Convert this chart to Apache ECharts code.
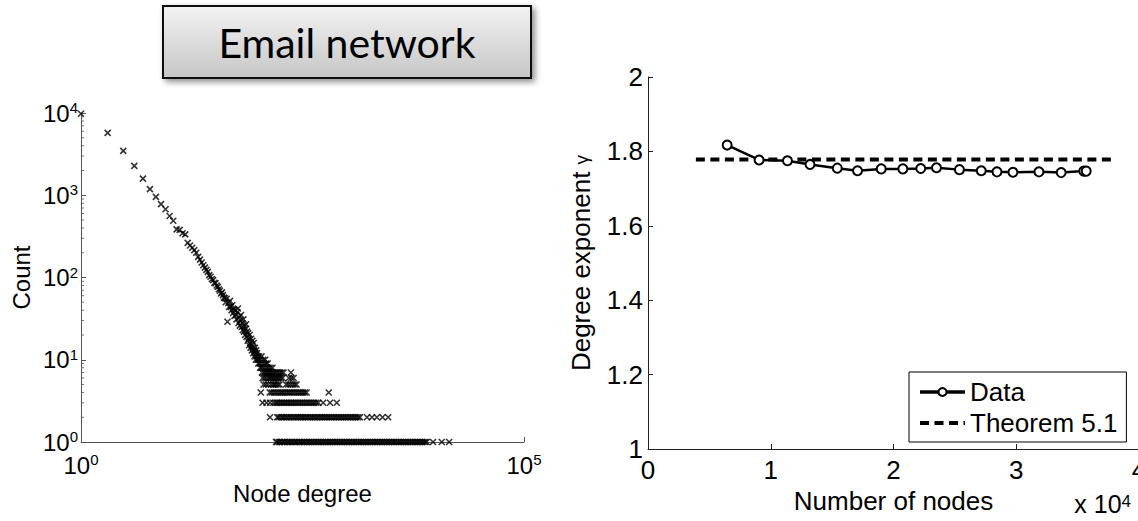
<!DOCTYPE html>
<html>
<head>
<meta charset="utf-8">
<style>
  html, body { margin: 0; padding: 0; background: #ffffff; }
  #chart { width: 1138px; height: 521px; }
</style>
<script src="https://cdn.jsdelivr.net/npm/echarts@6/dist/echarts.min.js"></script>
</head>
<body>
<div id="chart"></div>
<script>
// ---- Degree distribution (left panel) ----
// Low degrees: one count per degree
const headDegrees = [1, 2, 3, 4, 5, 6, 7, 8, 9, 10, 11, 12, 13, 14, 15,
  16, 17, 18, 19, 20, 21, 22, 23, 24, 25, 26, 27, 28, 29, 30, 31, 32, 33, 34, 35, 36, 37, 38, 39,
  40, 41, 42, 43, 44, 45, 46, 47, 48, 49, 50, 51, 52, 53, 54, 55, 56, 57, 58, 59,
  60, 61, 62, 63, 64, 65, 66, 67, 68, 69, 70, 71, 72, 73, 74, 75, 76, 77, 78, 79,
  80, 81, 82, 83, 84, 85, 86, 87, 88, 89, 90, 91, 92, 93, 94, 95, 96, 97, 98, 99, 100];
const headCounts = [9800, 5730, 3460, 2280, 1590, 1185, 955, 780, 675, 560, 490, 385, 380, 345, 335,
  264, 245, 230, 215, 200, 178, 165, 152, 141, 132, 124, 117, 107, 102, 96, 93, 86, 85, 80, 77, 72, 69, 64, 66,
  61, 57, 56, 50, 55, 29, 49, 44, 52, 44, 40, 46, 37, 41, 34, 40, 35, 31, 38, 42,
  28, 33, 26, 30, 35, 25, 28, 23, 31, 22, 26, 20, 24, 27, 19, 22, 17, 21, 18, 15,
  20, 16, 14, 18, 15, 13, 17, 14, 12, 16, 13, 11, 14, 12, 10, 13, 11, 12, 10, 11, 9];

// High degrees: degrees shared by exactly k nodes
const degreesCount11 = [102, 109];
const degreesCount10 = [101, 106, 114, 120];
const degreesCount9 = [104, 111, 117, 123, 128];
const degreesCount8 = [105, 108, 113, 119, 126, 131, 138, 145];
const degreesCount7 = [110, 116, 121, 125, 129, 134, 139, 143, 149, 155, 161, 168, 176, 184, 193, 234];
const degreesCount6 = [112, 118, 124, 132, 136, 141, 147, 152, 159, 165, 172, 180, 189, 222, 237, 251];
const degreesCount5 = [115, 122, 130, 140, 148, 153, 160, 167, 174, 206, 218, 231, 245, 258, 271];
const degreesCount4 = [107, 135, 142, 150, 158, 166, 175, 183, 190, 199, 209, 220, 229, 241, 253, 266,
  279, 293, 306, 321, 336, 352, 625];
const degreesCount3 = [112, 124, 136, 148, 157, 163, 170, 178, 186, 195, 204, 213, 223, 233, 244, 256,
  267, 281, 294, 309, 323, 340, 356, 374, 392, 411, 431, 452, 477, 541, 646, 770];
const degreesCount2 = [136, 164, 170, 179, 188, 195, 206, 213, 225, 233, 246, 255, 269, 279, 294, 305,
  321, 334, 351, 365, 384, 399, 420, 437, 459, 478, 502, 523, 549, 572, 601, 626, 657, 685, 719, 750,
  786, 820, 860, 898, 941, 983, 1030, 1075, 1127, 1177, 1233, 1288, 1349, 1409, 1690, 1923, 2185, 2530, 2930];
const degreesCount1 = [159, 163, 172, 177, 186, 194, 201, 211, 219, 230, 239, 250, 263, 272, 287, 298,
  313, 326, 341, 358, 373, 392, 407, 429, 446, 470, 489, 514, 535, 562, 585, 615, 641, 673, 701, 737,
  768, 806, 841, 882, 921, 966, 1007, 1057, 1103, 1157, 1207, 1266, 1321, 1386, 1447, 1516, 1583, 1660,
  1733, 1816, 1897, 1988, 2076, 2176, 2272, 2381, 2487, 2606, 2722, 2852, 2980, 3121, 3262, 3416, 3569,
  3739, 3907, 4092, 4276, 4479, 4680, 4902, 5122, 5365, 5606, 5872, 6137, 6427, 6715, 7034, 7350, 7698,
  7980, 9400, 11800, 14300];

// Minor tick positions on the count axis
const countMinorTicks = [2, 3, 4, 5, 6, 7, 8, 9, 20, 30, 40, 50, 60, 70, 80, 90,
  200, 300, 400, 500, 600, 700, 800, 900, 2000, 3000, 4000, 5000, 6000, 7000, 8000, 9000];

// ---- Degree exponent vs. network size (right panel) ----
const nodeCounts = [6450, 9050, 11360, 13200, 15420, 17070, 19000, 20760, 22220, 23500,
  25370, 27150, 28430, 29730, 31850, 33660, 35500, 35700];
const gammaValues = [1.817, 1.777, 1.775, 1.765, 1.755, 1.748, 1.753, 1.753, 1.754, 1.756,
  1.751, 1.748, 1.745, 1.744, 1.745, 1.743, 1.747, 1.747];
const theoremGamma = 1.778;
const theoremRange = [3900, 38000];

const FONT = "'Liberation Sans', Arial, sans-serif";
const DASH = [9, 5.5];

const tailRows = [
  [1, degreesCount1], [2, degreesCount2], [3, degreesCount3], [4, degreesCount4],
  [5, degreesCount5], [6, degreesCount6], [7, degreesCount7], [8, degreesCount8],
  [9, degreesCount9], [10, degreesCount10], [11, degreesCount11]
];
const degreePoints = headDegrees.map((d, i) => [d, headCounts[i]]);
tailRows.forEach(([k, degs]) => degs.forEach(d => degreePoints.push([d, k])));

const powLabel = v => '{b|10}{s|' + Math.round(Math.log10(v)) + '}';
const powRich = {
  b: { fontFamily: FONT, fontSize: 24, lineHeight: 26, color: '#000' },
  s: { fontFamily: FONT, fontSize: 15, lineHeight: 15, verticalAlign: 'top', color: '#000' }
};
const leftAxisGrey = '#555';

const chart = echarts.init(document.getElementById('chart'), null, { renderer: 'svg', width: 1138, height: 521 });

chart.setOption({
  animation: false,
  backgroundColor: '#ffffff',
  grid: [
    { left: 81, top: 113, width: 443, height: 329, outerBoundsMode: 'none', containLabel: false },
    { left: 648, top: 77, width: 491, height: 372, outerBoundsMode: 'none', containLabel: false }
  ],
  xAxis: [
    {
      type: 'log', logBase: 10, gridIndex: 0, min: 1, max: 100000, interval: 5,
      name: 'Node degree', nameLocation: 'middle', nameGap: 38,
      nameTextStyle: { fontFamily: FONT, fontSize: 24, color: '#000' },
      axisLine: { lineStyle: { color: leftAxisGrey, width: 1 } },
      axisTick: { inside: true, length: 5, lineStyle: { color: leftAxisGrey } },
      axisLabel: { formatter: powLabel, margin: 10, rich: powRich },
      splitLine: { show: false }
    },
    {
      type: 'value', gridIndex: 1, min: 0, max: 40000, interval: 10000,
      name: 'Number of nodes', nameLocation: 'middle', nameGap: 35,
      nameTextStyle: { fontFamily: FONT, fontSize: 26, color: '#000' },
      axisLine: { lineStyle: { color: '#222', width: 1 } },
      axisTick: { inside: true, length: 5, lineStyle: { color: '#222' } },
      axisLabel: { formatter: v => String(v / 10000), margin: 8, fontFamily: FONT, fontSize: 26, color: '#000' },
      splitLine: { show: false }
    }
  ],
  yAxis: [
    {
      type: 'log', logBase: 10, gridIndex: 0, min: 1, max: 10000,
      name: 'Count', nameLocation: 'middle', nameGap: 48,
      nameTextStyle: { fontFamily: FONT, fontSize: 24, color: '#000' },
      axisLine: { lineStyle: { color: leftAxisGrey, width: 1 } },
      axisTick: { inside: true, length: 5, lineStyle: { color: leftAxisGrey } },
      axisLabel: { formatter: powLabel, margin: 3, rich: powRich },
      splitLine: { show: false }
    },
    {
      type: 'value', gridIndex: 1, min: 1, max: 2, interval: 0.2,
      name: 'Degree exponent {g|γ}', nameLocation: 'middle', nameGap: 54,
      nameTextStyle: {
        fontFamily: FONT, fontSize: 26, color: '#000',
        rich: { g: { fontFamily: FONT, fontSize: 19, color: '#000' } }
      },
      axisLine: { lineStyle: { color: '#222', width: 1 } },
      axisTick: { inside: true, length: 5, lineStyle: { color: '#222' } },
      axisLabel: {
        margin: 5, fontFamily: FONT, fontSize: 26, color: '#000',
        formatter: v => (Math.abs(v - Math.round(v)) < 1e-9 ? String(Math.round(v)) : v.toFixed(1))
      },
      splitLine: { show: false }
    }
  ],
  legend: {
    data: [
      { name: 'Data', lineStyle: { width: 3.5, color: '#000' } },
      { name: 'Theorem 5.1', itemStyle: { opacity: 0 }, lineStyle: { width: 4, type: DASH, color: '#000' } }
    ],
    orient: 'vertical', left: 909, top: 372,
    padding: [6, 9, 5, 9], itemGap: 3, itemWidth: 45, itemHeight: 10,
    backgroundColor: '#ffffff', borderColor: '#000', borderWidth: 1, borderRadius: 0,
    selectedMode: false,
    textStyle: { fontFamily: FONT, fontSize: 26, lineHeight: 28, color: '#000' }
  },
  graphic: [
    {
      type: 'rect', z: 10,
      shape: { x: 163, y: 6, width: 368, height: 72 },
      style: {
        fill: new echarts.graphic.LinearGradient(0, 0, 0, 1, [
          { offset: 0, color: '#f3f3f3' },
          { offset: 1, color: '#c6c6c6' }
        ]),
        stroke: '#111', lineWidth: 2,
        shadowBlur: 6, shadowOffsetX: 3, shadowOffsetY: 3, shadowColor: 'rgba(0,0,0,0.45)'
      }
    },
    {
      type: 'text', z: 11, x: 347, y: 42,
      style: {
        text: 'Email network', fontFamily: 'Lato, sans-serif', fontSize: 41,
        fill: '#000', align: 'center', verticalAlign: 'middle'
      }
    },
    {
      type: 'text', z: 11, x: 1131, y: 504,
      style: {
        text: '{b|x 10}{s|4}', fill: '#000', align: 'right', verticalAlign: 'middle',
        rich: {
          b: { fontFamily: FONT, fontSize: 25, lineHeight: 22, fill: '#000' },
          s: { fontFamily: FONT, fontSize: 17, lineHeight: 16, verticalAlign: 'top', fill: '#000' }
        }
      }
    }
  ],
  series: [
    {
      name: 'degree', type: 'scatter', xAxisIndex: 0, yAxisIndex: 0,
      data: degreePoints,
      symbol: 'path://M0,0L8,8M8,0L0,8', symbolSize: 6,
      itemStyle: { color: 'transparent', borderColor: '#000', borderWidth: 1.6 },
      silent: true
    },
    {
      name: 'minorTicks', type: 'scatter', xAxisIndex: 0, yAxisIndex: 0,
      data: countMinorTicks.map(v => [1, v]),
      symbol: 'rect', symbolSize: [3, 1], symbolOffset: [1.5, 0],
      itemStyle: { color: leftAxisGrey }, clip: false, silent: true
    },
    {
      name: 'Theorem 5.1', type: 'line', xAxisIndex: 1, yAxisIndex: 1,
      data: theoremRange.map(x => [x, theoremGamma]),
      symbol: 'none',
      lineStyle: { color: '#000', width: 4, type: DASH },
      itemStyle: { color: '#000' }
    },
    {
      name: 'Data', type: 'line', xAxisIndex: 1, yAxisIndex: 1,
      data: nodeCounts.map((x, i) => [x, gammaValues[i]]),
      symbol: 'emptyCircle', symbolSize: 9,
      lineStyle: { color: '#000', width: 2.5 },
      itemStyle: { color: '#000', borderWidth: 2 }
    }
  ]
});
</script>
</body>
</html>
